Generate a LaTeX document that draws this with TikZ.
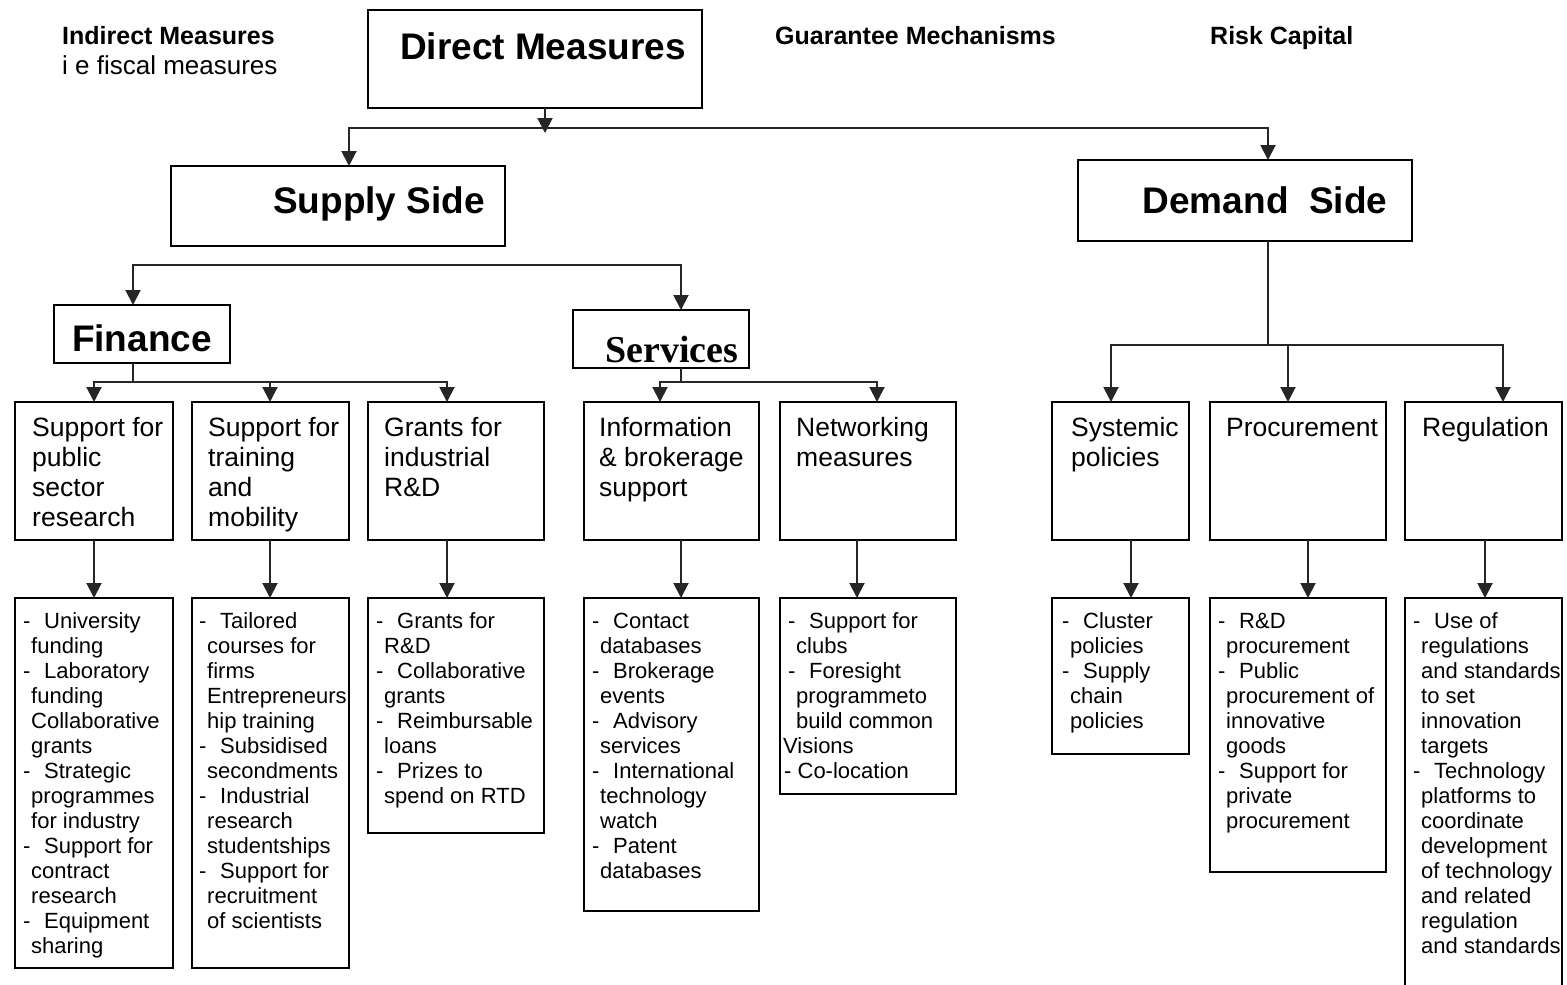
\documentclass[tikz,border=0pt]{standalone}
\usepackage{fontspec}
\setmainfont{Liberation Sans}
\newfontfamily\serifbold{Liberation Serif}
\usetikzlibrary{arrows.meta}
\newcommand\dashitem{\makebox[21pt][l]{-}}
\newcommand\contline{\hspace*{8pt}}
\newcommand\textlines[1]{\begin{tabular}[t]{@{}l@{}}#1\end{tabular}}
\tikzset{
  ln/.style={line width=2pt, draw=black!85},
  arr/.style={ln, -{Triangle[width=15pt,length=15pt]}},
  box/.style={draw=black, line width=2pt, inner sep=0pt, outer sep=0pt, anchor=north west},
  head/.style={font=\fontsize{37}{40}\selectfont\bfseries, inner sep=0pt, anchor=base},
  topnote/.style={font=\fontsize{25}{30}\selectfont\bfseries, inner sep=0pt, anchor=base west},
  t3/.style={font=\fontsize{26.5}{30}\selectfont, inner sep=0pt, anchor=base west},
  t4/.style={font=\fontsize{22}{25}\selectfont, inner sep=0pt, anchor=base west},
}
\begin{document}
\begin{tikzpicture}[x=1pt,y=-1pt]
\useasboundingbox (0,0) rectangle (1567,985);
\fill[white] (0,0) rectangle (1567,985);

% top notes
\node[topnote] (ind) at (62,44) {Indirect Measures};
\node[font=\fontsize{26}{30}\selectfont, inner sep=0pt, anchor=base west] (fisc) at (62,74) {i e fiscal measures};
\node[topnote] (guar) at (775,45) {Guarantee Mechanisms};
\node[topnote] (risk) at (1210,45) {Risk Capital};

% boxes level 1-2
\node[box, minimum width=334pt, minimum height=98pt] (dm) at (368,10) {};
\node[head] (dmt) at (543,59) {Direct Measures};
\node[box, minimum width=334pt, minimum height=80pt] (sup) at (171,166) {};
\node[head] (supt) at (379,213) {Supply Side};
\node[box, minimum width=334pt, minimum height=81pt] (dem) at (1078,160) {};
\node[head] (demt) at (1265,213) {Demand\ \ Side};
\node[box, minimum width=176pt, minimum height=58pt] (fin) at (54,305) {};
\node[head] (fint) at (142,351) {Finance};
\node[box, minimum width=176pt, minimum height=58pt] (ser) at (573,310) {};
\node[head, font=\serifbold\fontsize{38}{40}\selectfont\bfseries] (sert) at (672,362) {Services};

% level 3 boxes
\node[box, minimum width=158pt, minimum height=138pt] (a1) at (15,402) {};
\node[box, minimum width=157pt, minimum height=138pt] (a2) at (192,402) {};
\node[box, minimum width=176pt, minimum height=138pt] (a3) at (368,402) {};
\node[box, minimum width=175pt, minimum height=138pt] (a4) at (584,402) {};
\node[box, minimum width=176pt, minimum height=138pt] (a5) at (780,402) {};
\node[box, minimum width=137pt, minimum height=138pt] (a6) at (1052,402) {};
\node[box, minimum width=176pt, minimum height=138pt] (a7) at (1210,402) {};
\node[box, minimum width=157pt, minimum height=138pt] (a8) at (1405,402) {};

\node[t3] (a1t) at (32,436) {\textlines{Support for\\public\\sector\\research}};
\node[t3] (a2t) at (208,436) {\textlines{Support for\\training\\and\\mobility}};
\node[t3] (a3t) at (384,436) {\textlines{Grants for\\industrial\\R\&D}};
\node[t3] (a4t) at (599,436) {\textlines{Information\\\& brokerage\\support}};
\node[t3] (a5t) at (796,436) {\textlines{Networking\\measures}};
\node[t3] (a6t) at (1071,436) {\textlines{Systemic\\policies}};
\node[t3] (a7t) at (1226,436) {Procurement};
\node[t3] (a8t) at (1422,436) {Regulation};

% level 4 boxes
\node[box, minimum width=158pt, minimum height=370pt] (b1) at (15,598) {};
\node[box, minimum width=157pt, minimum height=370pt] (b2) at (192,598) {};
\node[box, minimum width=176pt, minimum height=235pt] (b3) at (368,598) {};
\node[box, minimum width=175pt, minimum height=313pt] (b4) at (584,598) {};
\node[box, minimum width=176pt, minimum height=196pt] (b5) at (780,598) {};
\node[box, minimum width=137pt, minimum height=156pt] (b6) at (1052,598) {};
\node[box, minimum width=176pt, minimum height=274pt] (b7) at (1210,598) {};
\node[box, minimum width=157pt, minimum height=400pt] (b8) at (1405,598) {};

\node[t4] (b1t) at (23,628) {\textlines{\dashitem University\\\contline funding\\\dashitem Laboratory\\\contline funding\\\contline Collaborative\\\contline grants\\\dashitem Strategic\\\contline programmes\\\contline for industry\\\dashitem Support for\\\contline contract\\\contline research\\\dashitem Equipment\\\contline sharing}};
\node[t4] (b2t) at (199,628) {\textlines{\dashitem Tailored\\\contline courses for\\\contline firms\\\contline Entrepreneurs\\\contline hip training\\\dashitem Subsidised\\\contline secondments\\\dashitem Industrial\\\contline research\\\contline studentships\\\dashitem Support for\\\contline recruitment\\\contline of scientists}};
\node[t4] (b3t) at (376,628) {\textlines{\dashitem Grants for\\\contline R\&D\\\dashitem Collaborative\\\contline grants\\\dashitem Reimbursable\\\contline loans\\\dashitem Prizes to\\\contline spend on RTD}};
\node[t4] (b4t) at (592,628) {\textlines{\dashitem Contact\\\contline databases\\\dashitem Brokerage\\\contline events\\\dashitem Advisory\\\contline services\\\dashitem International\\\contline technology\\\contline watch\\\dashitem Patent\\\contline databases}};
\node[t4] (b5t) at (788,628) {\textlines{\dashitem Support for\\\contline clubs\\\dashitem Foresight\\\contline programmeto\\\contline build common\\\hspace*{-5pt}Visions\\\hspace*{-4pt}- Co-location}};
\node[t4] (b6t) at (1062,628) {\textlines{\dashitem Cluster\\\contline policies\\\dashitem Supply\\\contline chain\\\contline policies}};
\node[t4] (b7t) at (1218,628) {\textlines{\dashitem R\&D\\\contline procurement\\\dashitem Public\\\contline procurement of\\\contline innovative\\\contline goods\\\dashitem Support for\\\contline private\\\contline procurement}};
\node[t4] (b8t) at (1413,628) {\textlines{\dashitem Use of\\\contline regulations\\\contline and standards\\\contline to set\\\contline innovation\\\contline targets\\\dashitem Technology\\\contline platforms to\\\contline coordinate\\\contline development\\\contline of technology\\\contline and related\\\contline regulation\\\contline and standards}};

% column coordinates
\coordinate (jt) at (545,128);
\coordinate (jtip) at (545,133);
\coordinate (cs) at (349,0);
\coordinate (cd) at (1268,0);
\coordinate (js) at (400,265);
\coordinate (cf) at (133,0);
\coordinate (cv) at (681,0);
\coordinate (jf) at (133,382);
\coordinate (jv) at (681,382);
\coordinate (jd) at (1268,345);
\coordinate (u1) at (94,0);
\coordinate (u2) at (270,0);
\coordinate (u3) at (447,0);
\coordinate (u4) at (660,0);
\coordinate (u5) at (877,0);
\coordinate (u6) at (1111,0);
\coordinate (u7) at (1288,0);
\coordinate (u8) at (1503,0);
\coordinate (v1) at (94,0);
\coordinate (v2) at (270,0);
\coordinate (v3) at (447,0);
\coordinate (v4) at (681,0);
\coordinate (v5) at (857,0);
\coordinate (v6) at (1131,0);
\coordinate (v7) at (1308,0);
\coordinate (v8) at (1485,0);

% connectors top
\draw[arr] (dm.south -| jt) -- (jtip);
\draw[arr] (jt) -| (sup.north -| cs);
\draw[arr] (jt) -| (dem.north -| cd);
% supply fan
\draw[arr] (js) -| (fin.north -| cf);
\draw[arr] (js) -| (ser.north -| cv);
% finance fan
\draw[ln] (fin.south -| jf) -- (jf);
\draw[arr] (jf) -| (a1.north -| u1);
\draw[arr] (jf) -| (a2.north -| u2);
\draw[arr] (jf) -| (a3.north -| u3);
% services fan
\draw[ln] (ser.south -| jv) -- (jv);
\draw[arr] (jv) -| (a4.north -| u4);
\draw[arr] (jv) -| (a5.north -| u5);
% demand fan
\draw[ln] (dem.south -| jd) -- (jd);
\draw[arr] (jd) -| (a6.north -| u6);
\draw[arr] (jd) -| (a7.north -| u7);
\draw[arr] (jd) -| (a8.north -| u8);
% level 3 -> 4
\draw[arr] (a1.south -| v1) -- (b1.north -| v1);
\draw[arr] (a2.south -| v2) -- (b2.north -| v2);
\draw[arr] (a3.south -| v3) -- (b3.north -| v3);
\draw[arr] (a4.south -| v4) -- (b4.north -| v4);
\draw[arr] (a5.south -| v5) -- (b5.north -| v5);
\draw[arr] (a6.south -| v6) -- (b6.north -| v6);
\draw[arr] (a7.south -| v7) -- (b7.north -| v7);
\draw[arr] (a8.south -| v8) -- (b8.north -| v8);
\end{tikzpicture}
\end{document}
